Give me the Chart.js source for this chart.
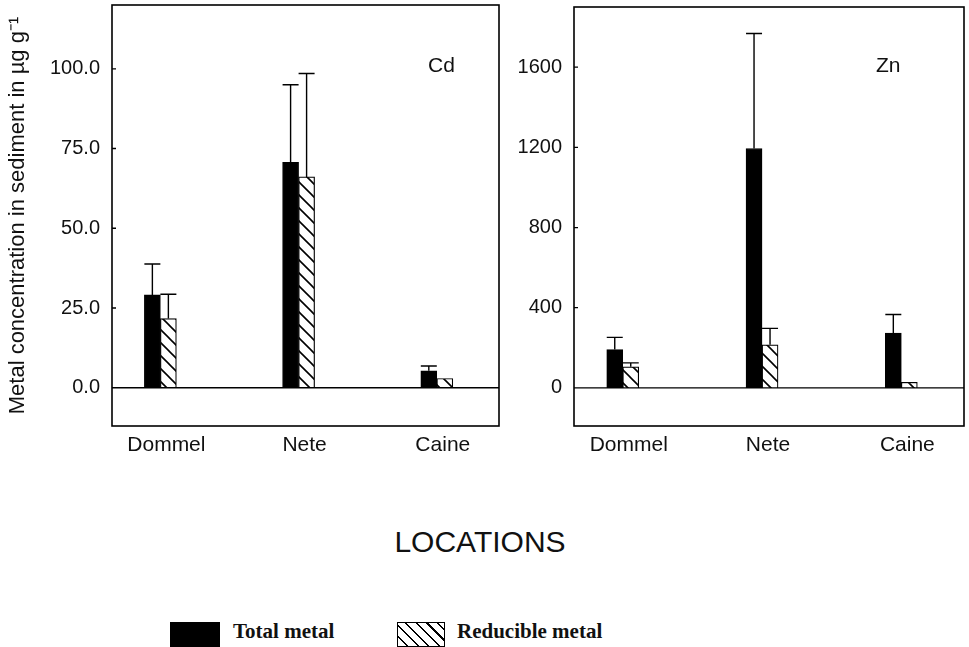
<!DOCTYPE html>
<html>
<head>
<meta charset="utf-8">
<script src="https://cdn.jsdelivr.net/npm/chart.js@4.4.0/dist/chart.umd.min.js"></script>
<style>
  body { margin: 0; background: #fff; }
  #wrap { position: relative; width: 969px; height: 647px; font-family: "Liberation Sans", Arial, sans-serif; color: #111; }
  canvas { position: absolute; top: 0; }
  #cdChart { left: 0; }
  #znChart { left: 500px; }
  .metal { position: absolute; font-size: 21px; line-height: 21px; }
  #xTitle { position: absolute; left: 0; width: 960px; top: 527px; text-align: center; font-size: 30px; line-height: 30px; }
  .swatch { position: absolute; top: 622px; height: 25px; box-sizing: border-box; }
  .leg { position: absolute; top: 621px; font-family: "Liberation Serif", "Times New Roman", serif; font-weight: bold; font-size: 21px; line-height: 21px; }
</style>
</head>
<body>
<div id="wrap">
  <canvas id="cdChart" width="500" height="470"></canvas>
  <canvas id="znChart" width="469" height="470"></canvas>
  <div class="metal" style="left:428px; top:54px">Cd</div>
  <div class="metal" style="left:876px; top:54px">Zn</div>
  <div id="xTitle">LOCATIONS</div>
  <div class="swatch" style="left:170px; width:50px; background:#000"></div>
  <div class="leg" style="left:233px">Total metal</div>
  <div class="swatch" style="left:397px; width:48px; border:1.5px solid #000;
       background:repeating-linear-gradient(45deg, #fff 0 6px, #000 6px 7.5px)"></div>
  <div class="leg" style="left:457px">Reducible metal</div>
</div>
<script>
const locations = ['Dommel', 'Nete', 'Caine'];

// Cd, ug/g
const cdTotal = [29.1, 70.7, 5.3];
const cdTotalErr = [9.7, 24.3, 1.5];
const cdReducible = [21.7, 66.1, 2.9];
const cdReducibleErr = [7.6, 32.4, 0];
const cdTicks = [0, 25, 50, 75, 100];

// Zn, ug/g
const znTotal = [191, 1194, 274];
const znTotalErr = [61, 574, 92];
const znReducible = [105, 215, 28];
const znReducibleErr = [20, 82, 0];
const znTicks = [0, 400, 800, 1200, 1600];

const FONT = '"Liberation Sans", Arial, sans-serif';

function hatch() {
  const c = document.createElement('canvas');
  c.width = 13; c.height = 13;
  const g = c.getContext('2d');
  g.fillStyle = '#fff';
  g.fillRect(0, 0, 13, 13);
  g.strokeStyle = '#000';
  g.lineWidth = 1.6;
  g.beginPath();
  g.moveTo(-2, -2); g.lineTo(15, 15);
  g.moveTo(-2, 11); g.lineTo(2, 15);
  g.moveTo(11, -2); g.lineTo(15, 2);
  g.stroke();
  return g.createPattern(c, 'repeat');
}

// no extra room for the end labels, the box is placed by hand
function noPad(s) {
  s.paddingTop = 0; s.paddingBottom = 0;
  s.paddingLeft = 0; s.paddingRight = 0;
}

// box round the plot, zero line, small ticks and error bars
const frame = {
  id: 'frame',
  afterDatasetsDraw(chart) {
    const { ctx, chartArea: a, scales: { y } } = chart;
    ctx.save();
    ctx.strokeStyle = '#000';
    chart.data.datasets.forEach((ds, i) => {
      chart.getDatasetMeta(i).data.forEach((bar, j) => {
        const e = ds.errors[j];
        if (!e) return;
        const top = y.getPixelForValue(ds.data[j].y + e);
        ctx.lineWidth = 1.4;
        ctx.beginPath();
        ctx.moveTo(bar.x, bar.y);
        ctx.lineTo(bar.x, top);
        ctx.moveTo(bar.x - bar.width / 2, top);
        ctx.lineTo(bar.x + bar.width / 2, top);
        ctx.stroke();
      });
    });
    ctx.lineWidth = 1.3;
    const zero = y.getPixelForValue(0);
    ctx.beginPath();
    ctx.moveTo(a.left, zero);
    ctx.lineTo(a.right, zero);
    y.ticks.forEach(t => {
      const p = y.getPixelForValue(t.value);
      ctx.moveTo(a.left, p);
      ctx.lineTo(a.left + 4, p);
    });
    ctx.stroke();
    ctx.lineWidth = 1.6;
    ctx.strokeRect(a.left, a.top, a.right - a.left, a.bottom - a.top);
    ctx.restore();
  }
};

function makeChart(id, total, totalErr, red, redErr, ticks, yMin, yMax, fmt, yWidth, padTop, padRight, title) {
  const pts = arr => arr.map((v, i) => ({ x: i + 1, y: v }));
  return new Chart(document.getElementById(id), {
    type: 'bar',
    data: {
      datasets: [
        { label: 'Total metal', data: pts(total), errors: totalErr,
          backgroundColor: '#000', borderColor: '#000', borderWidth: 1 },
        { label: 'Reducible metal', data: pts(red), errors: redErr,
          backgroundColor: hatch(), borderColor: '#000', borderWidth: 1.2 }
      ]
    },
    options: {
      responsive: false,
      animation: false,
      barThickness: 16,
      layout: { padding: { top: padTop, right: padRight, left: 0, bottom: 0 } },
      plugins: { legend: { display: false }, tooltip: { enabled: false } },
      scales: {
        x: {
          type: 'linear',
          min: 0.65,
          max: 3.45,
          offset: false,
          grid: { display: false, drawTicks: false },
          border: { display: false },
          afterBuildTicks: s => { s.ticks = locations.map((_, i) => ({ value: i + 1 })); },
          afterFit: s => { s.height = 44; noPad(s); },
          ticks: {
            callback: (v, i) => locations[i],
            color: '#111',
            padding: 7,
            labelOffset: 6,
            maxRotation: 0,
            font: { family: FONT, size: 21 }
          }
        },
        y: {
          min: yMin,
          max: yMax,
          grid: { display: false, drawTicks: false },
          border: { display: false },
          afterBuildTicks: s => { s.ticks = ticks.map(v => ({ value: v })); },
          afterFit: s => { s.width = yWidth; noPad(s); },
          ticks: {
            callback: fmt,
            color: '#111',
            padding: 12,
            font: { family: FONT, size: 20 }
          },
          title: {
            display: !!title,
            text: title,
            color: '#111',
            padding: { top: 5, bottom: 0 },
            font: { family: FONT, size: 22 }
          }
        }
      }
    },
    plugins: [frame]
  });
}

makeChart('cdChart', cdTotal, cdTotalErr, cdReducible, cdReducibleErr, cdTicks,
  -12, 120, v => v.toFixed(1), 112, 5, 1, 'Metal concentration in sediment in \u00b5g g\u207b\u00b9');
makeChart('znChart', znTotal, znTotalErr, znReducible, znReducibleErr, znTicks,
  -190, 1900, v => String(v), 74, 7, 5, '');
</script>
</body>
</html>
